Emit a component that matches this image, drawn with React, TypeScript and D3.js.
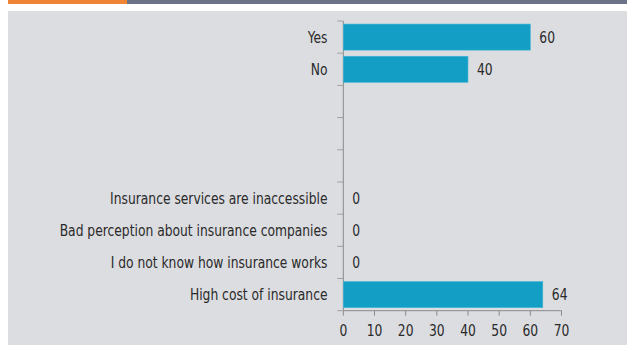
import React from "react";
import * as d3 from "d3";

const categories = [
  "Yes",
  "No",
  "",
  " ",
  "  ",
  "Insurance services are inaccessible",
  "Bad perception about insurance companies",
  "I do not know how insurance works",
  "High cost of insurance",
];
const values: (number | null)[] = [60, 40, null, null, null, 0, 0, 0, 64];
const xTicks = [0, 10, 20, 30, 40, 50, 60, 70];

const W = 627;
const H = 345;
const FONT = "'DejaVu Sans Condensed', 'DejaVu Sans', sans-serif";
const SX = 0.856;
const TXT = "#2a2a2a";

function T(props: {
  x: number;
  y: number;
  anchor?: "start" | "middle" | "end";
  dy?: string;
  children: React.ReactNode;
}) {
  return (
    <text
      transform={`translate(${props.x},${props.y}) scale(${SX},1)`}
      textAnchor={props.anchor || "start"}
      dy={props.dy}
      fontSize={16}
      fill={TXT}
    >
      {props.children}
    </text>
  );
}

export default function App() {
  const x = d3.scaleLinear().domain([0, 70]).range([343.3, 561.5]);
  const y = d3
    .scaleBand<string>()
    .domain(categories)
    .range([21, 310.7])
    .paddingInner(0.19)
    .paddingOuter(0.095);
  const step = y.step();
  const bandStart = 21;
  const boundaries = d3.range(categories.length + 1).map((i) => bandStart + i * step);
  const x0 = x(0);
  const yBottom = 310.7;

  return (
    <svg
      width={W}
      height={H}
      style={{ position: "absolute", left: 0, top: 0 }}
      fontFamily={FONT}
    >
      <rect x={8} y={0} width={119} height={4} fill="#ef8534" />
      <rect x={127} y={0} width={W - 127} height={4} fill="#6b7487" />
      <rect x={8} y={11} width={W - 8} height={H - 11} fill="#dcdde1" />

      {/* y axis */}
      <line x1={x0} x2={x0} y1={boundaries[0]} y2={yBottom} stroke="#8a8a8a" strokeWidth={1} />
      {boundaries.map((b, i) => (
        <line key={"yt" + i} x1={x0 - 6} x2={x0} y1={b} y2={b} stroke="#a0a0a0" strokeWidth={1} />
      ))}

      {/* bars */}
      {categories.map((c, i) => {
        const v = values[i];
        if (v === null) return null;
        const yy = y(c)!;
        return (
          <g key={"b" + i}>
            {v > 0 && (
              <rect
                x={x0}
                y={yy}
                width={x(v) - x0}
                height={y.bandwidth()}
                fill="#139fc5"
                stroke="#45b6d6"
                strokeWidth={0.6}
              />
            )}
            <T x={x(v) + 9} y={yy + y.bandwidth() / 2} dy="0.35em">
              {v}
            </T>
          </g>
        );
      })}

      {/* category labels */}
      {categories.map((c, i) =>
        c.trim() ? (
          <T key={"l" + i} x={327.5} y={y(c)! + y.bandwidth() / 2} dy="0.35em" anchor="end">
            {c}
          </T>
        ) : null
      )}

      {/* x axis */}
      <line x1={x0} x2={x(70)} y1={yBottom} y2={yBottom} stroke="#8a8a8a" strokeWidth={1} />
      {xTicks.map((t) => (
        <g key={"xt" + t}>
          <line x1={x(t)} x2={x(t)} y1={yBottom} y2={yBottom + 5} stroke="#8a8a8a" strokeWidth={1} />
          <T x={x(t)} y={336} anchor="middle">
            {t}
          </T>
        </g>
      ))}
    </svg>
  );
}
